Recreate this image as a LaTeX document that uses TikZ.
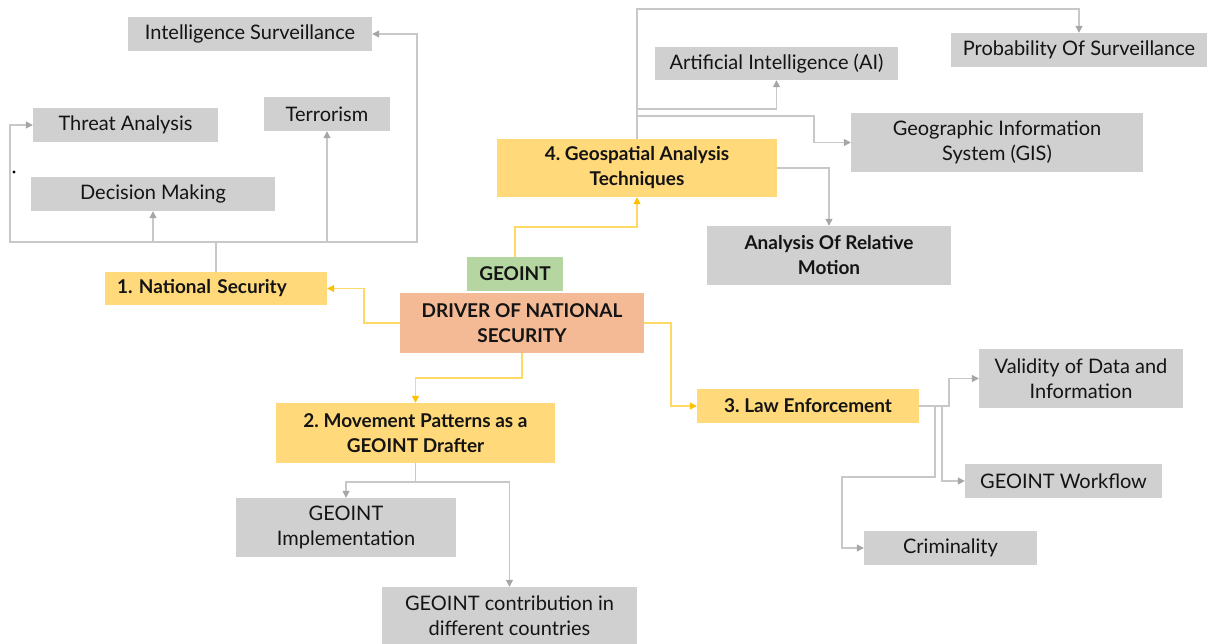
\documentclass[tikz,border=0pt]{standalone}
\usepackage{fontspec}
\setmainfont{Lato}
\usetikzlibrary{arrows.meta}
\frenchspacing
\definecolor{boxgray}{HTML}{D0D0D0}
\definecolor{boxyellow}{HTML}{FFD97A}
\definecolor{boxgreen}{HTML}{B5D6A1}
\definecolor{boxorange}{HTML}{F4B995}
\definecolor{linegray}{HTML}{C8C8C8}
\definecolor{headgray}{HTML}{A6A6A6}
\definecolor{lineyellow}{HTML}{FFD966}
\definecolor{headyellow}{HTML}{FFC000}
\definecolor{txt}{HTML}{141414}
\tikzset{
  box/.style={draw=none, inner sep=0pt, align=center, text=txt,
    font=\fontsize{20}{25}\selectfont},
  bfont/.style={font=\fontsize{19}{25}\selectfont\bfseries},
  gbox/.style={box, fill=boxgray},
  ybox/.style={box, fill=boxyellow, bfont},
  gplain/.style={draw=linegray, line width=1.2pt},
  garrow/.style={gplain, -{Triangle[length=7pt,width=7pt,color=headgray]}},
  yarrow/.style={draw=lineyellow, line width=1.2pt, -{Triangle[length=7pt,width=7pt,color=headyellow]}},
}
\begin{document}
\begin{tikzpicture}[x=1pt,y=-1pt]
\useasboundingbox (0,0) rectangle (1210,643);
% left cluster
\node[gbox, minimum width=244pt, minimum height=34pt] (is) at (250,34) {Intelligence Surveillance};
\node[gbox, minimum width=185pt, minimum height=34pt] (ta) at (125.5,125) {Threat Analysis};
\node[gbox, minimum width=126pt, minimum height=34pt] (te) at (327,114) {Terrorism};
\node[gbox, minimum width=244pt, minimum height=34pt] (dm) at (153,194) {Decision Making};
\node[ybox, minimum width=222pt, minimum height=33pt, text width=198pt, inner xsep=12pt, align=left] (ns) at (216,288.5) {1. National Security};
\fill[black] (14,172) circle (1.6pt);
% centre
\node[box, fill=boxgreen, minimum width=96pt, minimum height=34pt, bfont] (geo) at (515,274) {GEOINT};
\node[box, fill=boxorange, minimum width=244pt, minimum height=60pt, bfont] (drv) at (522,323) {DRIVER OF NATIONAL\\SECURITY};
% movement
\node[ybox, minimum width=279pt, minimum height=60pt] (mp) at (415.5,433) {2. Movement Patterns as a\\GEOINT Drafter};
\node[gbox, minimum width=220pt, minimum height=59pt] (gi) at (346,527.5) {GEOINT\\Implementation};
\node[gbox, minimum width=255pt, minimum height=57pt] (gc) at (509.5,615.5) {GEOINT contribution in\\different countries};
% law
\node[ybox, minimum width=222pt, minimum height=34pt] (le) at (808,406) {3. Law Enforcement};
\node[gbox, minimum width=204pt, minimum height=59pt] (va) at (1081,378.5) {Validity of Data and\\Information};
\node[gbox, minimum width=197pt, minimum height=34pt] (gw) at (1063.5,481) {GEOINT Workflow};
\node[gbox, minimum width=173pt, minimum height=34pt] (cr) at (950.5,548) {Criminality};
% geospatial
\node[ybox, minimum width=280pt, minimum height=58pt] (gs) at (637,168) {4. Geospatial Analysis\\Techniques};
\node[gbox, minimum width=243pt, minimum height=33pt] (ai) at (776.5,63.5) {Artificial Intelligence (AI)};
\node[gbox, minimum width=256pt, minimum height=34pt] (pr) at (1079,50) {Probability Of Surveillance};
\node[gbox, minimum width=292pt, minimum height=59pt] (gis) at (997,142.5) {Geographic Information\\System (GIS)};
\node[gbox, minimum width=244pt, minimum height=59pt, bfont] (mo) at (829,255.5) {Analysis Of Relative\\Motion};

% connectors: national security
\coordinate (nsj) at (216,242);
\draw[gplain] (ns.north) -- (nsj);
\draw[garrow] (nsj) -| (dm.south);
\draw[garrow] (nsj) -| (te.south);
\draw[garrow] (nsj) -- (10,242) |- (ta.west);
\draw[garrow] (nsj) -- (417,242) |- (is.east);
% yellow
\draw[yarrow] (drv.west) -- (364,323) |- (ns.east);
\draw[yarrow] (drv.south) -- (522,378) -| (mp.north);
\draw[yarrow] (drv.east) -- (671,323) |- (le.west);
\draw[yarrow] (geo.north) -- (515,227) -| (gs.south);
% geospatial branches
\coordinate (gtop) at (637,9);
\coordinate (gai) at (637,109);
\coordinate (ggis) at (637,116);
\draw[garrow] (gs.north) -- (gtop) -| (pr.north);
\draw[garrow] (gai) -| (ai.south);
\draw[garrow] (ggis) -- (814,116) |- (gis.west);
\draw[garrow] (gs.east) -| (mo.north);
% movement branches
\coordinate (mpj) at (415.5,482);
\draw[gplain] (mp.south) -- (mpj);
\draw[garrow] (mpj) -| (gi.north);
\draw[garrow] (mpj) -| (gc.north);
% law branches
\coordinate (lej) at (949,406);
\draw[garrow] (le.east) -- (lej) |- (va.west);
\draw[garrow] (942,406) |- (gw.west);
\draw[garrow] (935,406) -- (935,477) -- (842,477) |- (cr.west);
\end{tikzpicture}
\end{document}
